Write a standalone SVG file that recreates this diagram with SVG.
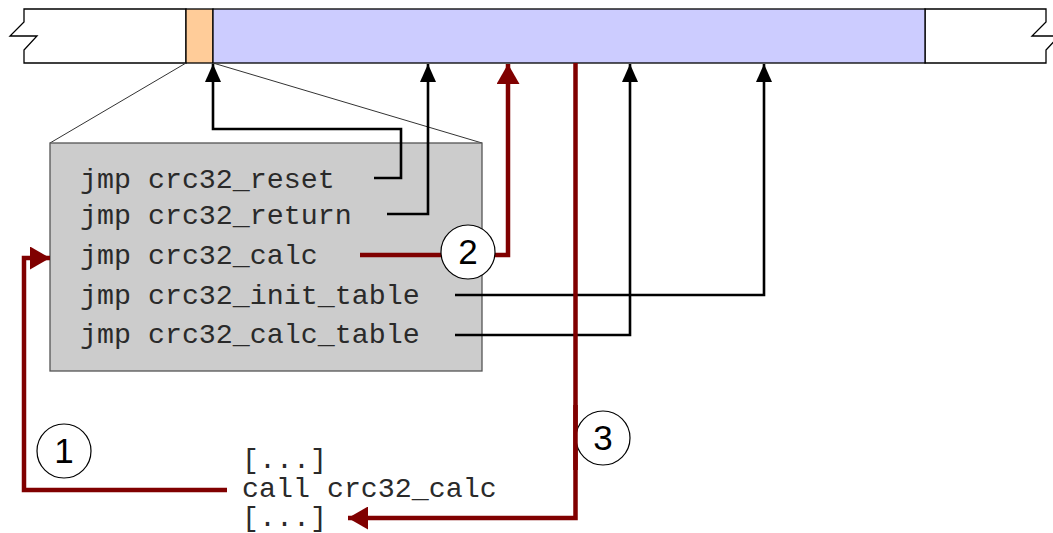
<svg xmlns="http://www.w3.org/2000/svg" width="1053" height="533" viewBox="0 0 1053 533">
  <style>
    .code { font-family: "Liberation Mono", "Courier New", monospace; font-size: 28.3px; fill: #2a2a2a; }
    .num { font-family: "Liberation Sans", Arial, sans-serif; font-size: 35px; fill: #000; text-anchor: middle; }
    .blk { fill: none; stroke: #000; stroke-width: 2.6; }
    .red { fill: none; stroke: #800000; stroke-width: 4.5; }
    .badge { fill: #fff; stroke: #000; stroke-width: 1.2; }
  </style>
  <defs>
    <marker id="ah-black" markerUnits="userSpaceOnUse" viewBox="0 0 18 16" refX="18" refY="8" markerWidth="18" markerHeight="16" orient="auto">
      <path d="M0,0 L18,8 L0,16 Z" fill="#000"/>
    </marker>
    <marker id="ah-red" markerUnits="userSpaceOnUse" viewBox="0 0 20 23" refX="20" refY="11.5" markerWidth="20" markerHeight="23" orient="auto">
      <path d="M0,0 L20,11.5 L0,23 Z" fill="#800000"/>
    </marker>
  </defs>

  <!-- memory strip with break marks on both ends -->
  <g id="memory">
    <path d="M24,9 L186,9 L186,63 L24,63 L24,50 L37,36 L10,36 L24,22 Z" fill="#fff" stroke="#000" stroke-width="1.3"/>
    <path d="M925,9 L1046,9 L1046,22 L1032,36 L1059,36 L1046,50 L1046,63 L925,63 Z" fill="#fff" stroke="#000" stroke-width="1.3"/>
    <rect x="186" y="9" width="27" height="54" fill="#ffcc99" stroke="#000" stroke-width="1.3"/>
    <rect x="213" y="9" width="712" height="54" fill="#ccccff" stroke="#000" stroke-width="1.3"/>
  </g>

  <!-- zoom lines from the jump table slot -->
  <g id="zoom-lines" stroke="#333" stroke-width="1" fill="none">
    <line x1="186" y1="63" x2="50" y2="143"/>
    <line x1="213" y1="63" x2="482" y2="143"/>
  </g>

  <!-- jump table -->
  <g id="jump-table">
    <rect x="50" y="143" width="432" height="228" fill="#cccccc" stroke="#555" stroke-width="1.3"/>
    <text class="code" x="80" y="188">jmp crc32_reset</text>
    <text class="code" x="80" y="224">jmp crc32_return</text>
    <text class="code" x="80" y="264">jmp crc32_calc</text>
    <text class="code" x="80" y="304">jmp crc32_init_table</text>
    <text class="code" x="80" y="343">jmp crc32_calc_table</text>
  </g>

  <!-- caller code -->
  <g id="caller">
    <text class="code" x="242" y="468">[...]</text>
    <text class="code" x="242" y="497">call crc32_calc</text>
    <text class="code" x="242" y="526">[...]</text>
  </g>

  <!-- connectors -->
  <g id="connectors">
    <path class="blk" d="M374,178 L401,178 L401,129 L213,129 L213,64" marker-end="url(#ah-black)"/>
    <path class="blk" d="M387,214 L428,214 L428,64" marker-end="url(#ah-black)"/>
    <path class="blk" d="M455,295 L764,295 L764,64" marker-end="url(#ah-black)"/>
    <path class="blk" d="M455,335 L630,335 L630,64" marker-end="url(#ah-black)"/>
    <path class="red" d="M360,255 L508,255 L508,64" marker-end="url(#ah-red)"/>
    <path class="red" d="M227,490 L24,490 L24,258 L50,258" marker-end="url(#ah-red)"/>
    <path class="red" d="M575.5,63 L575.5,518 L348,518" marker-end="url(#ah-red)"/>
  </g>

  <!-- step badges -->
  <g id="step-1">
    <circle class="badge" cx="64" cy="451" r="27"/>
    <text class="num" x="64" y="463">1</text>
  </g>
  <g id="step-2">
    <circle class="badge" cx="468" cy="252" r="27"/>
    <text class="num" x="468" y="264">2</text>
  </g>
  <g id="step-3">
    <circle class="badge" cx="603" cy="438" r="27"/>
    <text class="num" x="603" y="450">3</text>
  </g>
  <line x1="575.5" y1="405" x2="575.5" y2="470" stroke="#800000" stroke-width="4.5"/>
</svg>
